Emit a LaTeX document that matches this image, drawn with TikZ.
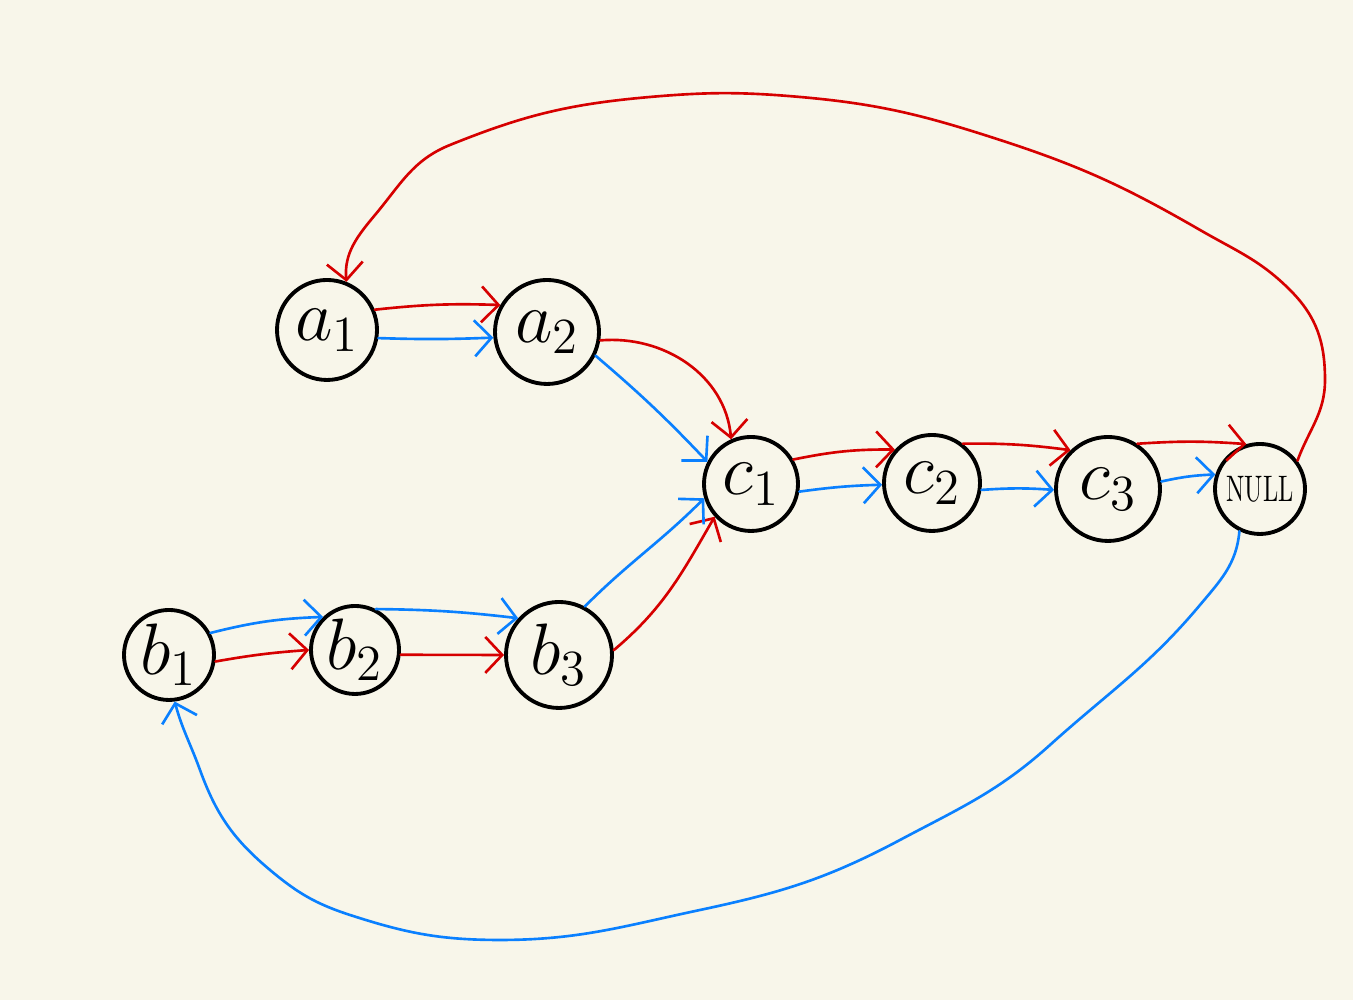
\documentclass[tikz,border=0pt]{standalone}
\usepackage{tikz}
\usepackage{amsmath}
\usepackage{graphicx}
\usetikzlibrary{arrows.meta}
\definecolor{paperbg}{RGB}{248,246,234}
\definecolor{linkred}{RGB}{214,0,0}
\definecolor{linkblue}{RGB}{10,128,255}

\begin{document}
\begin{tikzpicture}[
    listnode/.style={circle, draw=black, line width=1.1pt, inner sep=0pt, font=\fontsize{20}{24}\selectfont},
    redlink/.style={draw=linkred, line width=0.75pt, line cap=round, -{Straight Barb[length=1.7mm,width=3.6mm]}},
    bluelink/.style={draw=linkblue, line width=0.75pt, line cap=round, -{Straight Barb[length=1.7mm,width=3.6mm]}}
]
    % Background
    \fill[paperbg] (0,0) rectangle (13.53,10);

    % List A
    \node[listnode, minimum size=1.00cm] (a1) at (3.27,6.70) {$a_1$};
    \node[listnode, minimum size=1.04cm] (a2) at (5.47,6.68) {$a_2$};

    % List B
    \node[listnode, minimum size=0.90cm] (b1) at (1.69,3.45) {$b_1$};
    \node[listnode, minimum size=0.88cm] (b2) at (3.55,3.50) {$b_2$};
    \node[listnode, minimum size=1.06cm] (b3) at (5.59,3.45) {$b_3$};

    % Shared tail
    \node[listnode, minimum size=0.94cm] (c1) at (7.51,5.16) {$c_1$};
    \node[listnode, minimum size=0.96cm] (c2) at (9.32,5.17) {$c_2$};
    \node[listnode, minimum size=1.04cm] (c3) at (11.08,5.11) {$c_3$};
    \node[listnode, minimum size=0.90cm, font=\fontsize{10.5}{12}\selectfont] (null) at (12.60,5.11) {\scalebox{0.66}[1]{NULL}};

    % Red pointer walk
    \draw[redlink] (a1.23) to[bend left=4] (a2.150);
    \draw[redlink] (a2.-9) to[out=5,in=95] (c1.114);
    \draw[redlink] (c1.30) to[bend left=6] (c2.138);
    \draw[redlink] (c2.52) to[bend left=4] (c3.134);
    \draw[redlink] (c3.57) to[bend left=4] (null.107);
    \draw[redlink] (null.37) to[out=70,in=-90] (13.25,6.2) to[out=90,in=-45] (12.9,7.1)
        to[out=135,in=-30] (12.0,7.7) to[out=150,in=-18] (10.0,8.6) to[out=162,in=-5] (8.0,9.03)
        to[out=175,in=5] (6.5,9.03) to[out=185,in=22] (4.5,8.55) to[out=202,in=50] (3.75,7.85)
        to[out=230,in=95] (a1.68);
    \draw[redlink] (b1.-8) to[bend left=3] (b2.180);
    \draw[redlink] (b2.-6) -- (b3.180);
    \draw[redlink] (b3.5) to[out=40,in=240] (c1.222);

    % Blue pointer walk
    \draw[bluelink] (a1.-9) to[bend right=2] (a2.186);
    \draw[bluelink] (a2.-26) to[bend left=3] (c1.153);
    \draw[bluelink] (c1.-9) to[bend left=3] (c2.182);
    \draw[bluelink] (c2.-8) to[bend left=4] (c3.181);
    \draw[bluelink] (c3.8) to[bend left=5] (null.162);
    \draw[bluelink] (null.244) to[out=265,in=50] (12.0,3.95) to[out=230,in=42] (10.5,2.55)
        to[out=222,in=28] (9.0,1.6) to[out=208,in=12] (7.0,0.9) to[out=192,in=0] (5.0,0.6)
        to[out=180,in=-18] (3.5,0.85) to[out=162,in=-40] (2.7,1.3) to[out=140,in=-70] (2.0,2.3)
        to[out=110,in=-75] (b1.277);
    \draw[bluelink] (b1.28) to[bend left=6] (b2.134);
    \draw[bluelink] (b2.63) to[bend left=3] (b3.138);
    \draw[bluelink] (b3.62) to[out=45,in=225] (c1.197);
\end{tikzpicture}
\end{document}
